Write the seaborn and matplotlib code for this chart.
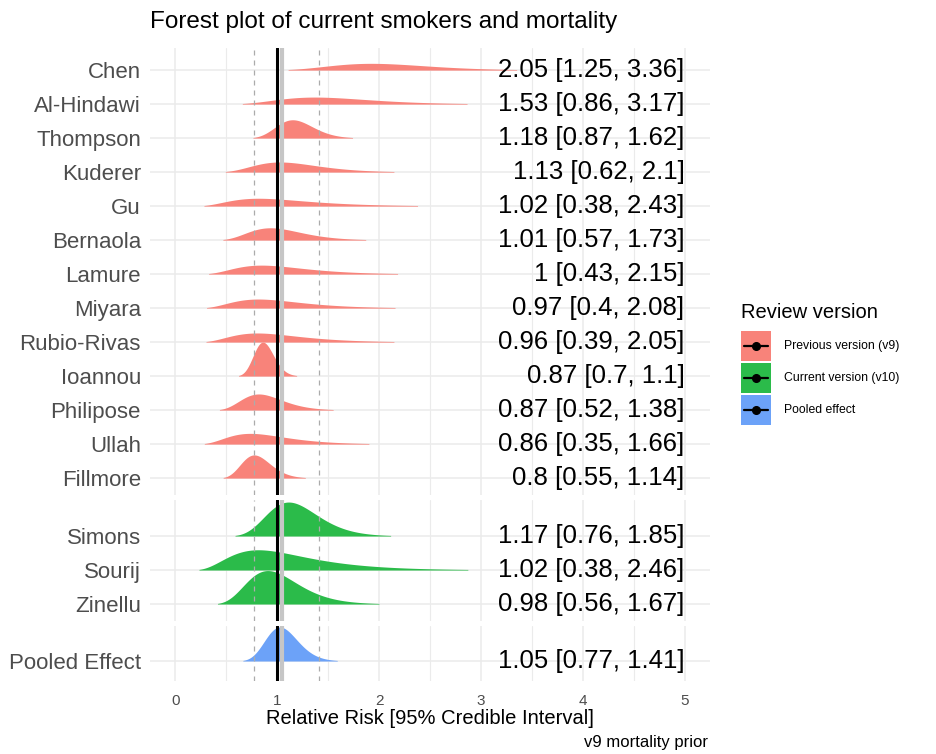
import numpy as np
import pandas as pd
import matplotlib
matplotlib.use("Agg")
import matplotlib.pyplot as plt
import seaborn as sns
from matplotlib.patches import Rectangle
from matplotlib.lines import Line2D

# ---------------- data ----------------
studies_v9 = ["Chen", "Al-Hindawi", "Thompson", "Kuderer", "Gu", "Bernaola", "Lamure",
              "Miyara", "Rubio-Rivas", "Ioannou", "Philipose", "Ullah", "Fillmore"]
median_v9 = [2.05, 1.53, 1.18, 1.13, 1.02, 1.01, 1.00, 0.97, 0.96, 0.87, 0.87, 0.86, 0.80]
lower_v9 = [1.25, 0.86, 0.87, 0.62, 0.38, 0.57, 0.43, 0.40, 0.39, 0.70, 0.52, 0.35, 0.55]
upper_v9 = [3.36, 3.17, 1.62, 2.10, 2.43, 1.73, 2.15, 2.08, 2.05, 1.10, 1.38, 1.66, 1.14]

studies_v10 = ["Simons", "Sourij", "Zinellu"]
median_v10 = [1.17, 1.02, 0.98]
lower_v10 = [0.76, 0.38, 0.56]
upper_v10 = [1.85, 2.46, 1.67]

studies_pooled = ["Pooled Effect"]
median_pooled = [1.05]
lower_pooled = [0.77]
upper_pooled = [1.41]

legend_labels = ["Previous version (v9)", "Current version (v10)", "Pooled effect"]
group_colors = ["#F8837A", "#2BBB4A", "#6CA2F8"]
x_ticks = [0, 1, 2, 3, 4, 5]

title = "Forest plot of current smokers and mortality"
x_label = "Relative Risk [95% Credible Interval]"
caption = "v9 mortality prior"

# ---------------- style ----------------
sns.set_theme(style="white")
plt.rcParams['font.family'] = ['Liberation Sans', 'DejaVu Sans']

W, H = 937, 754
fig = plt.figure(figsize=(W / 100, H / 100), dpi=100)

ROW_PX = 34
PX_L, PX_R = 150, 710
XLIM = (-0.25, 5.25)
GRID = "#EBEBEB"
MIN_VISIBLE = 0.6 / ROW_PX   # density tails thinner than ~0.6 px are not drawn


def lognormal_density(med, lo, hi, xs):
    mu = np.log(med)
    sd = (np.log(hi) - np.log(lo)) / (2 * 1.959964)
    return np.exp(-0.5 * ((np.log(xs) - mu) / sd) ** 2) / (xs * sd * np.sqrt(2 * np.pi))


def build_frame(names, med, lo, hi):
    rows = []
    n = len(names)
    for i, (nm, m, l, u) in enumerate(zip(names, med, lo, hi)):
        mu = np.log(m)
        sd = (np.log(u) - np.log(l)) / (2 * 1.959964)
        xs = np.exp(np.linspace(mu - 4 * sd, mu + 4 * sd, 500))
        xs = xs[(xs > XLIM[0]) & (xs < XLIM[1])]
        d = lognormal_density(m, l, u, xs)
        for x, dv in zip(xs, d):
            rows.append((nm, n - 1 - i, x, dv))
    df = pd.DataFrame(rows, columns=["study", "row", "x", "density"])
    df["height"] = df["density"] / df["density"].max()
    return df


groups = [
    (studies_v9, median_v9, lower_v9, upper_v9, group_colors[0], 48, -0.5, 12.65),
    (studies_v10, median_v10, lower_v10, upper_v10, group_colors[1], 500, -0.5, 3.06),
    (studies_pooled, median_pooled, lower_pooled, upper_pooled, group_colors[2], 626, -0.59, 1.03),
]

pool_med, pool_lo, pool_hi = median_pooled[0], lower_pooled[0], upper_pooled[0]

for gi, (names, med, lo, hi, col, top_px, yb, yt) in enumerate(groups):
    h_px = (yt - yb) * ROW_PX
    ax = fig.add_axes([PX_L / W, 1 - (top_px + h_px) / H, (PX_R - PX_L) / W, h_px / H])
    ax.set_xlim(*XLIM)
    ax.set_ylim(yb, yt)
    for s in ax.spines.values():
        s.set_visible(False)
    ax.set_facecolor("white")

    # grid
    ax.set_xticks(x_ticks)
    ax.set_xticks(np.arange(0.5, 5.0, 1.0), minor=True)
    ax.grid(True, which="major", axis="x", color=GRID, lw=1.1, zorder=0)
    ax.grid(True, which="minor", axis="x", color=GRID, lw=0.8, zorder=0)
    n = len(names)
    ax.set_yticks(list(range(n)))
    ax.set_yticklabels(list(reversed(names)), fontsize=16, color="#4D4D4D")
    ax.grid(True, which="major", axis="y", color=GRID, lw=1.1, zorder=0)
    ax.tick_params(axis="y", length=0, pad=6.5)
    ax.tick_params(axis="x", which="both", length=0)

    df = build_frame(names, med, lo, hi)
    for i, nm in enumerate(names):
        sub = df[df["study"] == nm]
        vis = np.where(sub["height"].values >= MIN_VISIBLE)[0]
        sub = sub.iloc[vis.min():vis.max() + 1]
        base = n - 1 - i
        ax.fill_between(sub["x"], base, base + sub["height"], color=col,
                        lw=0, zorder=2)
        lab = f"{med[i]:g} [{lo[i]:g}, {hi[i]:g}]"
        ax.text(5, base, lab, ha="right", va="center", fontsize=18.5, color="black", zorder=5)

    ax.set_xlabel("")
    ax.set_ylabel("")

    # reference lines
    for v in (pool_lo, pool_hi):
        ax.axvline(v, color="#ABABAB", lw=0.9, ls=(0, (4, 4)), zorder=3)
    ax.axvline(pool_med, color="#C6C6C6", lw=3.0, zorder=3)
    ax.axvline(1.0, color="black", lw=2.2, zorder=4)

    if gi < len(groups) - 1:
        ax.set_xticklabels([])
    else:
        ax.set_xticklabels([str(t) for t in x_ticks], fontsize=11, color="#4D4D4D")
        ax.tick_params(axis="x", pad=9)

# titles & labels
fig.text(PX_L / W, 1 - 22 / H, title, ha="left", va="center", fontsize=17.5, color="black")
fig.text((PX_L + PX_R) / 2 / W, 1 - 718 / H, x_label, ha="center", va="center",
         fontsize=14.5, color="black")
fig.text(708 / W, 1 - 743 / H, caption, ha="right", va="center", fontsize=12, color="black")

# legend
fig.text(741 / W, 1 - 313 / H, "Review version", ha="left", va="center", fontsize=14.5,
         color="black")
key = 30
for k, (lab, col) in enumerate(zip(legend_labels, group_colors)):
    cy = 346 + 32 * k
    x0 = 741
    fig.add_artist(Rectangle((x0 / W, 1 - (cy + key / 2) / H), key / W, key / H,
                             transform=fig.transFigure, facecolor=col, edgecolor="none"))
    fig.add_artist(Line2D([(x0 + 3) / W, (x0 + key - 3) / W], [1 - cy / H, 1 - cy / H],
                          transform=fig.transFigure, color="black", lw=1.6))
    fig.add_artist(Line2D([(x0 + key / 2) / W], [1 - cy / H], transform=fig.transFigure,
                          marker="o", ms=5.5, color="black", lw=0))
    fig.text(784 / W, 1 - cy / H, lab, ha="left", va="center", fontsize=8.8, color="black")

fig.savefig("out.png", dpi=100, facecolor="white")
